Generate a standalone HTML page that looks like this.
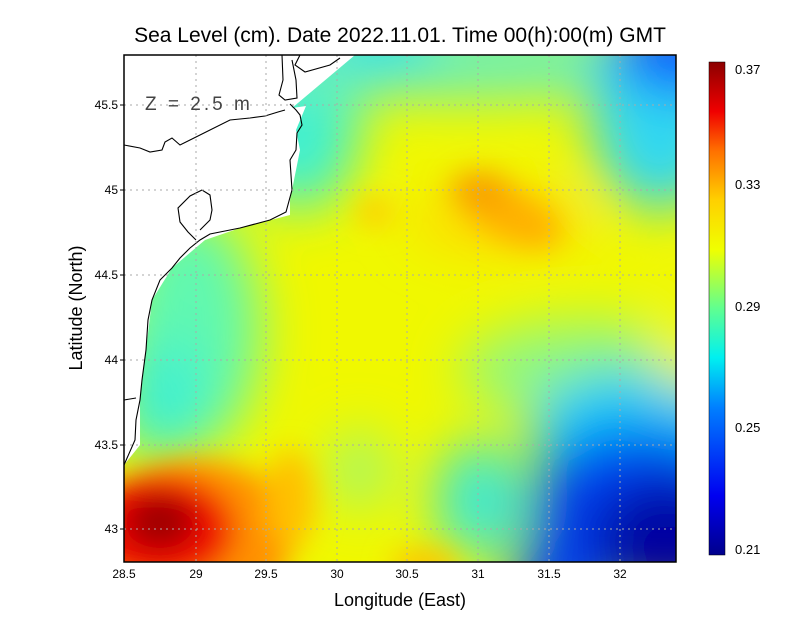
<!DOCTYPE html>
<html><head><meta charset="utf-8"><style>
body{margin:0;background:#fff;}
svg{display:block;font-family:"Liberation Sans",sans-serif;}
</style></head><body>
<svg width="800" height="618" viewBox="0 0 800 618" xmlns="http://www.w3.org/2000/svg">
<defs>
<clipPath id="pc"><rect x="124" y="55" width="552" height="507"/></clipPath>
<filter id="b1" filterUnits="userSpaceOnUse" x="0" y="0" width="800" height="618"><feGaussianBlur stdDeviation="26"/></filter>
<filter id="b2" filterUnits="userSpaceOnUse" x="0" y="0" width="800" height="618"><feGaussianBlur stdDeviation="14"/></filter>
<linearGradient id="cb" x1="0" y1="1" x2="0" y2="0">
<stop offset="0" stop-color="#00008c"/><stop offset="0.12" stop-color="#0000f0"/>
<stop offset="0.3" stop-color="#0080ff"/><stop offset="0.4" stop-color="#00f0f0"/>
<stop offset="0.5" stop-color="#60ff90"/><stop offset="0.62" stop-color="#f0ff00"/>
<stop offset="0.72" stop-color="#ffd000"/><stop offset="0.82" stop-color="#ff7000"/>
<stop offset="0.9" stop-color="#f00000"/><stop offset="1" stop-color="#8c0000"/>
</linearGradient>
</defs>
<text x="400" y="42" font-size="21" text-anchor="middle" fill="#000">Sea Level (cm). Date 2022.11.01. Time 00(h):00(m) GMT</text>
<g clip-path="url(#pc)">
<rect x="100" y="30" width="620" height="560" fill="#f0f800"/>
<g filter="url(#b1)">
<ellipse cx="190" cy="330" rx="70" ry="120" fill="#60f8b0"/>
<ellipse cx="160" cy="400" rx="45" ry="60" fill="#40f0d0"/>
<ellipse cx="300" cy="120" rx="60" ry="90" fill="#40f0d0"/>
<ellipse cx="450" cy="60" rx="250" ry="40" fill="#70f0b0"/>
<ellipse cx="380" cy="40" rx="60" ry="30" fill="#20e0f0"/>
<ellipse cx="660" cy="110" rx="70" ry="100" fill="#30d8f0"/>
<ellipse cx="690" cy="50" rx="80" ry="45" fill="#1060ff"/>
<ellipse cx="590" cy="370" rx="130" ry="50" fill="#90f880"/>
<ellipse cx="640" cy="430" rx="110" ry="60" fill="#10c8f8"/>
<ellipse cx="640" cy="510" rx="110" ry="80" fill="#0040f0"/>
<ellipse cx="670" cy="540" rx="80" ry="60" fill="#0000a0"/>
<ellipse cx="560" cy="580" rx="50" ry="40" fill="#0040f0"/>
<ellipse cx="480" cy="500" rx="45" ry="60" fill="#40e8d0"/>
<ellipse cx="360" cy="470" rx="30" ry="40" fill="#a0f870"/>
<ellipse cx="500" cy="220" rx="90" ry="30" fill="#ffd800"/>
<ellipse cx="690" cy="340" rx="40" ry="50" fill="#f0f800"/>
</g>
<g filter="url(#b2)">
<ellipse cx="510" cy="215" rx="55" ry="25" fill="#ffb000" transform="rotate(25 510 215)"/>
<ellipse cx="480" cy="190" rx="30" ry="18" fill="#f8a000"/>
<ellipse cx="375" cy="212" rx="18" ry="14" fill="#ffc800"/>
<ellipse cx="195" cy="535" rx="100" ry="75" fill="#ff9000"/>
<ellipse cx="160" cy="530" rx="75" ry="55" fill="#f01000"/>
<ellipse cx="160" cy="522" rx="35" ry="28" fill="#a00000"/>
<ellipse cx="290" cy="500" rx="25" ry="50" fill="#ffc000"/>
<ellipse cx="425" cy="565" rx="35" ry="15" fill="#ffc000"/>
</g>
<path d="M124,55 L355,55 L292,108 L306,106 L296,130 L300,150 L290,200 L290,215 L240,228 L205,240 L172,268 L152,300 L146,350 L140,400 L140,445 L124,465 Z" fill="#fff"/>
<g fill="none" stroke="#000" stroke-width="1.1">
<path d="M124,145 L140,148 L150,152 L162,150 L165,142 L172,138 L180,145 L190,140 L210,130 L230,120 L250,118 L265,116 L278,112 L285,110"/>
<path d="M290,104 L296,110 L300,115 L302,125 L297,133 L296,150 L290,160 L292,190 L286,212 L270,220 L240,228 L210,234 L200,240 L190,248 L180,258 L172,268 L160,280 L152,300 L148,320 L146,350 L142,380 L140,400 L136,420 L135,440 L124,465"/>
<path d="M196,240 L188,232 L180,222 L178,208 L190,196 L202,190 L210,195 L212,210 L210,220 L200,230"/>
<path d="M282,55 L283,80 L279,95 L285,100 L297,98 L296,80 L292,60"/>
<path d="M300,55 L295,65 L305,72 L330,65 L340,58"/>
<path d="M124,400 L136,398"/>
</g>
<g stroke="#aaa" stroke-width="1" stroke-dasharray="2,4">
<line x1="196" y1="55" x2="196" y2="562"/><line x1="266" y1="55" x2="266" y2="562"/>
<line x1="337" y1="55" x2="337" y2="562"/><line x1="407" y1="55" x2="407" y2="562"/>
<line x1="478" y1="55" x2="478" y2="562"/><line x1="549" y1="55" x2="549" y2="562"/>
<line x1="620" y1="55" x2="620" y2="562"/>
<line x1="124" y1="105" x2="676" y2="105"/><line x1="124" y1="190" x2="676" y2="190"/>
<line x1="124" y1="275" x2="676" y2="275"/><line x1="124" y1="360" x2="676" y2="360"/>
<line x1="124" y1="445" x2="676" y2="445"/><line x1="124" y1="529" x2="676" y2="529"/>
</g>
<text x="145" y="110" font-size="19" fill="#444" letter-spacing="3">Z = 2.5 m</text>
</g>
<rect x="124" y="55" width="552" height="507" fill="none" stroke="#000" stroke-width="1.5"/>
<g font-size="12" fill="#000" text-anchor="middle">
<text x="124" y="578">28.5</text><text x="196" y="578">29</text><text x="266" y="578">29.5</text>
<text x="337" y="578">30</text><text x="407" y="578">30.5</text><text x="478" y="578">31</text>
<text x="549" y="578">31.5</text><text x="620" y="578">32</text>
</g>
<g font-size="12" fill="#000" text-anchor="end">
<text x="118" y="109">45.5</text><text x="118" y="194">45</text><text x="118" y="279">44.5</text>
<text x="118" y="364">44</text><text x="118" y="449">43.5</text><text x="118" y="533">43</text>
</g>
<g stroke="#000"><line x1="120" y1="105" x2="124" y2="105"/><line x1="120" y1="190" x2="124" y2="190"/><line x1="120" y1="275" x2="124" y2="275"/><line x1="120" y1="360" x2="124" y2="360"/><line x1="120" y1="445" x2="124" y2="445"/><line x1="120" y1="529" x2="124" y2="529"/></g>
<text x="400" y="606" font-size="18" text-anchor="middle">Longitude (East)</text>
<text transform="translate(82,308) rotate(-90)" font-size="18" text-anchor="middle">Latitude (North)</text>
<rect x="709" y="62" width="16" height="493" fill="url(#cb)" stroke="#000" stroke-width="0.5"/>
<g font-size="13" fill="#000">
<text x="735" y="74">0.37</text><text x="735" y="189">0.33</text><text x="735" y="311">0.29</text>
<text x="735" y="432">0.25</text><text x="735" y="554">0.21</text>
</g>
</svg>
</body></html>
